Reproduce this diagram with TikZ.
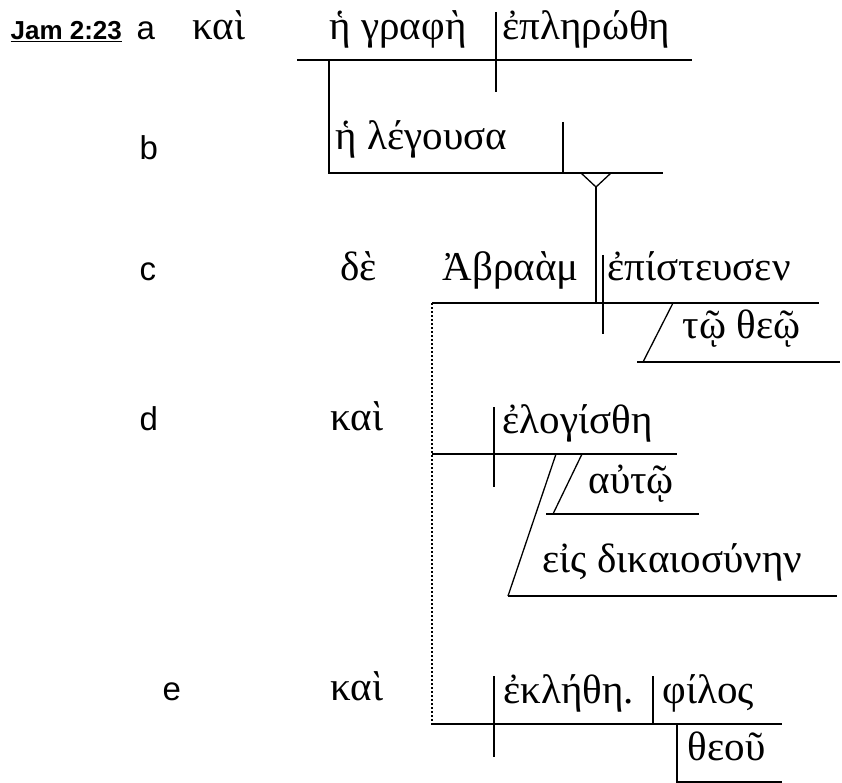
\documentclass[tikz,border=0pt]{standalone}
\usepackage{fontspec}
\setsansfont{Liberation Sans}
\newfontfamily\grk{Liberation Serif}

\tikzset{
  greek/.style={anchor=base west,inner sep=0pt,font=\grk\fontsize{41}{44}\selectfont},
  letter/.style={anchor=base west,inner sep=0pt,font=\sffamily\fontsize{33}{36}\selectfont},
  rule/.style={line width=1.3pt},
  dots/.style={line width=2.6pt,dash pattern=on 2.4pt off 1.6pt},
}

\begin{document}
\begin{tikzpicture}[x=1pt,y=-1pt,rule]
\useasboundingbox (0,0) rectangle (842,783);

\node[letter,font=\sffamily\bfseries\fontsize{26}{30}\selectfont] at (10,40) (ref) {\underline{Jam 2:23}};
\node[letter] at (136,40) (la) {a};
\node[letter] at (139,160) (lb) {b};
\node[letter] at (139,280) (lc) {c};
\node[letter] at (139,430) (ld) {d};
\node[letter] at (162,700) (le) {e};

\node[greek] at (192,40) (kaia) {καὶ};
\node[greek] at (329,40) (graphe) {ἡ γραφὴ};
\node[greek] at (502,40) (eplerothe) {ἐπληρώθη};
\node[greek] at (335,150) (legousa) {ἡ λέγουσα};
\node[greek] at (340,280) (de) {δὲ};
\node[greek] at (442,280) (abraam) {Ἀβραὰμ};
\node[greek] at (607,280) (episteusen) {ἐπίστευσεν};
\node[greek] at (682,338) (theo) {τῷ θεῷ};
\node[greek] at (330,430) (kaid) {καὶ};
\node[greek] at (502,433) (elogisthe) {ἐλογίσθη};
\node[greek] at (588,493) (auto) {αὐτῷ};
\node[greek] at (542,572) (dikaiosynen) {εἰς δικαιοσύνην};
\node[greek] at (330,700) (kaie) {καὶ};
\node[greek] at (503,703) (eklethe) {ἐκλήθη.};
\node[greek] at (662,703) (philos) {φίλος};
\node[greek] at (687,760) (theou) {θεοῦ};

\draw (297,60) -- (692,60);
\draw (496,12) -- (496,92);
\draw (329,60) -- (329,173) -- (663,173);
\draw (563,122) -- (563,173);
\draw (581,173) -- (596,187) -- (611,173);
\draw (596,187) -- (596,303);

\draw (432,303) -- (819,303);
\draw (603,255) -- (603,334);
\draw (673,303) -- (643,362);
\draw (637,362) -- (840,362);
\draw[dots] (432,303) -- (432,724);

\draw (432,454) -- (677,454);
\draw (494,407) -- (494,487);
\draw (582,454) -- (553,514);
\draw (546,514) -- (699,514);
\draw (556,454) -- (508,596);
\draw (508,596) -- (837,596);

\draw (431,724) -- (782,724);
\draw (494,676) -- (494,757);
\draw (653,676) -- (653,724);
\draw (677,724) -- (677,782) -- (782,782);

\end{tikzpicture}
\end{document}
